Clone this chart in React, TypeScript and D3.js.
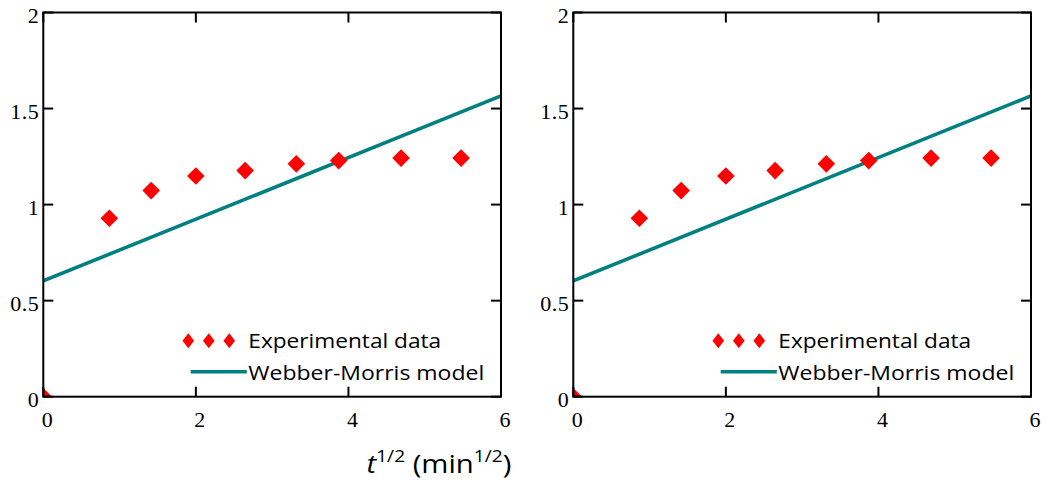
import React, { useLayoutEffect, useRef, useState } from "react";
import * as d3 from "d3";

const xTicks = [0, 2, 4, 6];
const xTickLabels = ["0", "2", "4", "6"];
const yTicks = [0, 0.5, 1, 1.5, 2];
const yTickLabels = ["0", "0.5", "1", "1.5", "2"];

const expX = [0, 0.866, 1.414, 2.0, 2.646, 3.317, 3.873, 4.69, 5.477];
const expY = [0, 0.929, 1.073, 1.149, 1.177, 1.212, 1.229, 1.242, 1.242];

const modelX = [0, 6];
const modelY = [0.603, 1.566];

const legendLabels = ["Experimental data", "Webber-Morris model"];

const W = 1047;
const H = 481;
const panelLefts = [43.3, 573.3];
const PW = 457.7;
const PT = 12.5;
const PH = 384.2;

const RED = "#ff0000";
const TEAL = "#008080";
const SERIF = "Liberation Serif, Times New Roman, serif";
const SANS = "Open Sans, sans-serif";

function diamond(cx: number, cy: number, rx: number, ry: number) {
  return `M${cx},${cy - ry}L${cx + rx},${cy}L${cx},${cy + ry}L${cx - rx},${cy}Z`;
}

// Text stretched horizontally to a target width (left-anchored at x)
function FitText({
  x,
  y,
  width,
  fontSize,
  children,
}: {
  x: number;
  y: number;
  width: number;
  fontSize: number;
  children: React.ReactNode;
}) {
  const ref = useRef<SVGTextElement>(null);
  const [sx, setSx] = useState(1);
  useLayoutEffect(() => {
    if (ref.current) {
      const w = ref.current.getBBox().width;
      if (w > 0) setSx(width / w);
    }
  }, [width]);
  return (
    <g transform={`translate(${x},${y}) scale(${sx},1)`}>
      <text ref={ref} x={0} y={0} fontFamily={SANS} fontSize={fontSize} fill="#000">
        {children}
      </text>
    </g>
  );
}

function Panel({ left, idx }: { left: number; idx: number }) {
  const x = d3.scaleLinear().domain([0, 6]).range([left, left + PW]);
  const y = d3.scaleLinear().domain([0, 2]).range([PT + PH, PT]);
  const line = d3
    .line<number>()
    .x((_, i) => x(modelX[i]))
    .y((d) => y(d));
  const clipId = `clip${idx}`;
  const tickLen = 10;
  const lx = left + 145;
  return (
    <g>
      <defs>
        <clipPath id={clipId}>
          <rect x={left} y={PT} width={PW} height={PH} />
        </clipPath>
      </defs>
      <g clipPath={`url(#${clipId})`}>
        <path d={line(modelY) || ""} fill="none" stroke={TEAL} strokeWidth={3.6} />
        {expX.map((v, i) => (
          <path key={i} d={diamond(x(v), y(expY[i]), 8.8, 8.8)} fill={RED} />
        ))}
      </g>
      {[0, 1, 2].map((k) => (
        <path key={k} d={diamond(lx + k * 20.5, 340.7, 5.8, 7.5)} fill={RED} />
      ))}
      <FitText x={left + 205} y={347.7} width={193} fontSize={20}>
        {legendLabels[0]}
      </FitText>
      <line x1={left + 147.4} x2={left + 203.5} y1={371.7} y2={371.7} stroke={TEAL} strokeWidth={3.6} />
      <FitText x={left + 205} y={379.5} width={236} fontSize={20}>
        {legendLabels[1]}
      </FitText>
      <rect x={left} y={PT} width={PW} height={PH} fill="none" stroke="#000" strokeWidth={2} />
      {xTicks.map((t) => (
        <g key={"x" + t}>
          <line x1={x(t)} x2={x(t)} y1={PT + PH} y2={PT + PH - tickLen} stroke="#000" strokeWidth={2} />
          <line x1={x(t)} x2={x(t)} y1={PT} y2={PT + tickLen} stroke="#000" strokeWidth={2} />
        </g>
      ))}
      {yTicks.map((t) => (
        <g key={"y" + t}>
          <line x1={left} x2={left + tickLen} y1={y(t)} y2={y(t)} stroke="#000" strokeWidth={2} />
          <line x1={left + PW} x2={left + PW - tickLen} y1={y(t)} y2={y(t)} stroke="#000" strokeWidth={2} />
        </g>
      ))}
      {xTicks.map((t, i) => (
        <text key={"xl" + t} x={x(t) + 4} y={427} textAnchor="middle" fontFamily={SERIF} fontSize={22} fill="#000">
          {xTickLabels[i]}
        </text>
      ))}
      {yTicks.map((t, i) => (
        <text key={"yl" + t} x={left - 4} y={y(t) + 10.5} textAnchor="end" fontFamily={SERIF} fontSize={22} fill="#000" letterSpacing={0.5}>
          {yTickLabels[i]}
        </text>
      ))}
    </g>
  );
}

export default function App() {
  return (
    <svg width={W} height={H} style={{ position: "absolute", left: 0, top: 0, background: "#fff" }}>
      <rect x={0} y={0} width={W} height={H} fill="#fff" />
      {panelLefts.map((l, i) => (
        <Panel key={i} left={l} idx={i} />
      ))}
      <FitText x={366.5} y={473.3} width={145} fontSize={26}>
        <tspan fontStyle="italic">t</tspan>
        <tspan fontSize={17} dy={-11}>1/2</tspan>
        <tspan dy={11}> (min</tspan>
        <tspan fontSize={17} dy={-11}>1/2</tspan>
        <tspan dy={11}>)</tspan>
      </FitText>
    </svg>
  );
}
